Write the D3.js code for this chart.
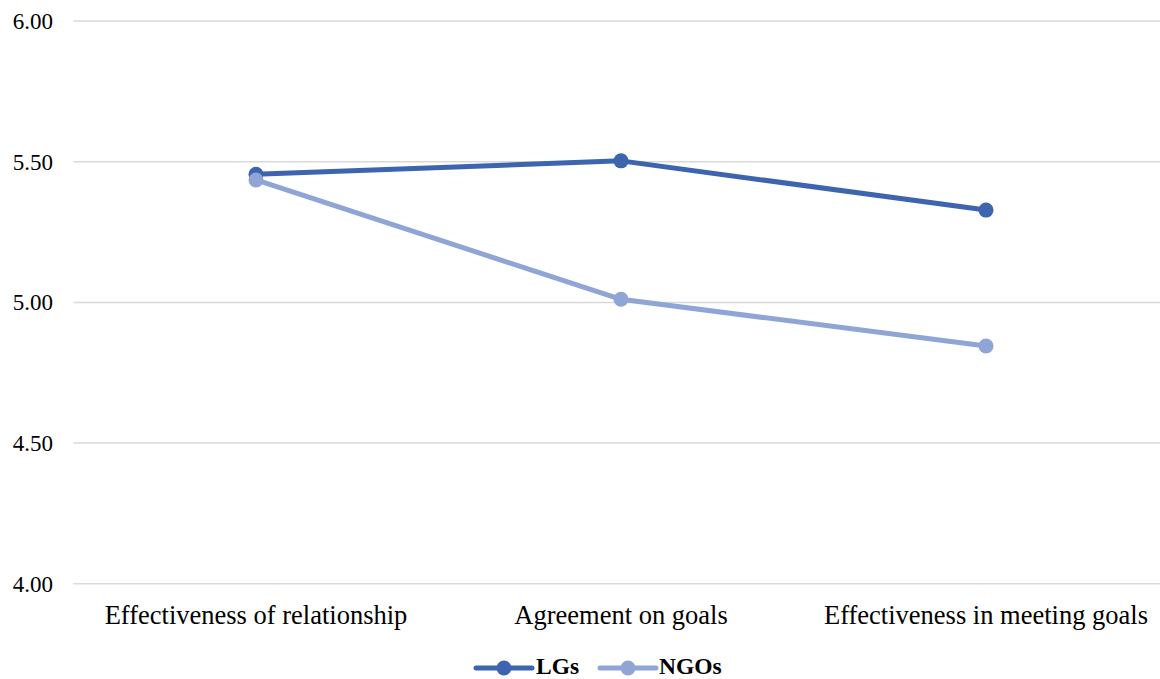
<!DOCTYPE html>
<html><head><meta charset="utf-8">
<script src="https://cdn.jsdelivr.net/npm/d3@7"></script>
<style>body{margin:0;background:#fff}svg{display:block}</style>
</head><body>
<svg id="c" width="1160" height="679"></svg>
<script>
const categories = ["Effectiveness of relationship", "Agreement on goals", "Effectiveness in meeting goals"];
const seriesNames = ["LGs", "NGOs"];
const lgValues = [5.455, 5.503, 5.328];
const ngoValues = [5.435, 5.011, 4.845];
const yTicks = [4.0, 4.5, 5.0, 5.5, 6.0];
const colors = ["#3D64AE", "#8FA5D5"];

const svg = d3.select("#c");
const font = "'Liberation Serif','Times New Roman',serif";
const plotLeft = 73.5, plotRight = 1168.5, plotTop = 21, plotBottom = 583.8;

const x = d3.scalePoint().domain(categories).range([plotLeft, plotRight]).padding(0.5);
const y = d3.scaleLinear().domain([4, 6]).range([plotBottom, plotTop]);

// gridlines
svg.append("g").selectAll("line").data(yTicks).join("line")
  .attr("x1", plotLeft).attr("x2", plotRight)
  .attr("y1", d => y(d)).attr("y2", d => y(d))
  .attr("stroke", "#d9d9d9").attr("stroke-width", 1.5);

// y labels
svg.append("g").selectAll("text").data(yTicks).join("text")
  .attr("x", 53).attr("y", d => y(d)).attr("dy", "0.35em")
  .attr("text-anchor", "end")
  .attr("font-family", font).attr("font-size", 23).attr("fill", "#000")
  .text(d => d3.format(".2f")(d));

// x labels
svg.append("g").selectAll("text").data(categories).join("text")
  .attr("x", d => x(d)).attr("y", 624)
  .attr("text-anchor", "middle")
  .attr("font-family", font).attr("font-size", 26.5).attr("fill", "#000")
  .text(d => d);

const series = [lgValues, ngoValues];
const line = d3.line().x((d, i) => x(categories[i])).y(d => y(d));

series.forEach((vals, si) => {
  const g = svg.append("g");
  g.append("path").datum(vals).attr("d", line)
    .attr("fill", "none").attr("stroke", colors[si]).attr("stroke-width", 5)
    .attr("stroke-linejoin", "round");
  g.selectAll("circle").data(vals).join("circle")
    .attr("cx", (d, i) => x(categories[i])).attr("cy", d => y(d))
    .attr("r", 7.5).attr("fill", colors[si]);
});

// legend
const legendItems = [
  {name: seriesNames[0], x0: 476, tx: 536},
  {name: seriesNames[1], x0: 600, tx: 659}
];
const ly = 668;
legendItems.forEach((it, i) => {
  const g = svg.append("g");
  g.append("line").attr("x1", it.x0).attr("x2", it.x0 + 56)
    .attr("y1", ly).attr("y2", ly)
    .attr("stroke", colors[i]).attr("stroke-width", 5).attr("stroke-linecap", "round");
  g.append("circle").attr("cx", it.x0 + 28).attr("cy", ly).attr("r", 7.5).attr("fill", colors[i]);
  g.append("text").attr("x", it.tx).attr("y", 674)
    .attr("font-family", font).attr("font-size", 23.5).attr("font-weight", "bold").attr("fill", "#000")
    .text(it.name);
});
</script>
</body></html>
